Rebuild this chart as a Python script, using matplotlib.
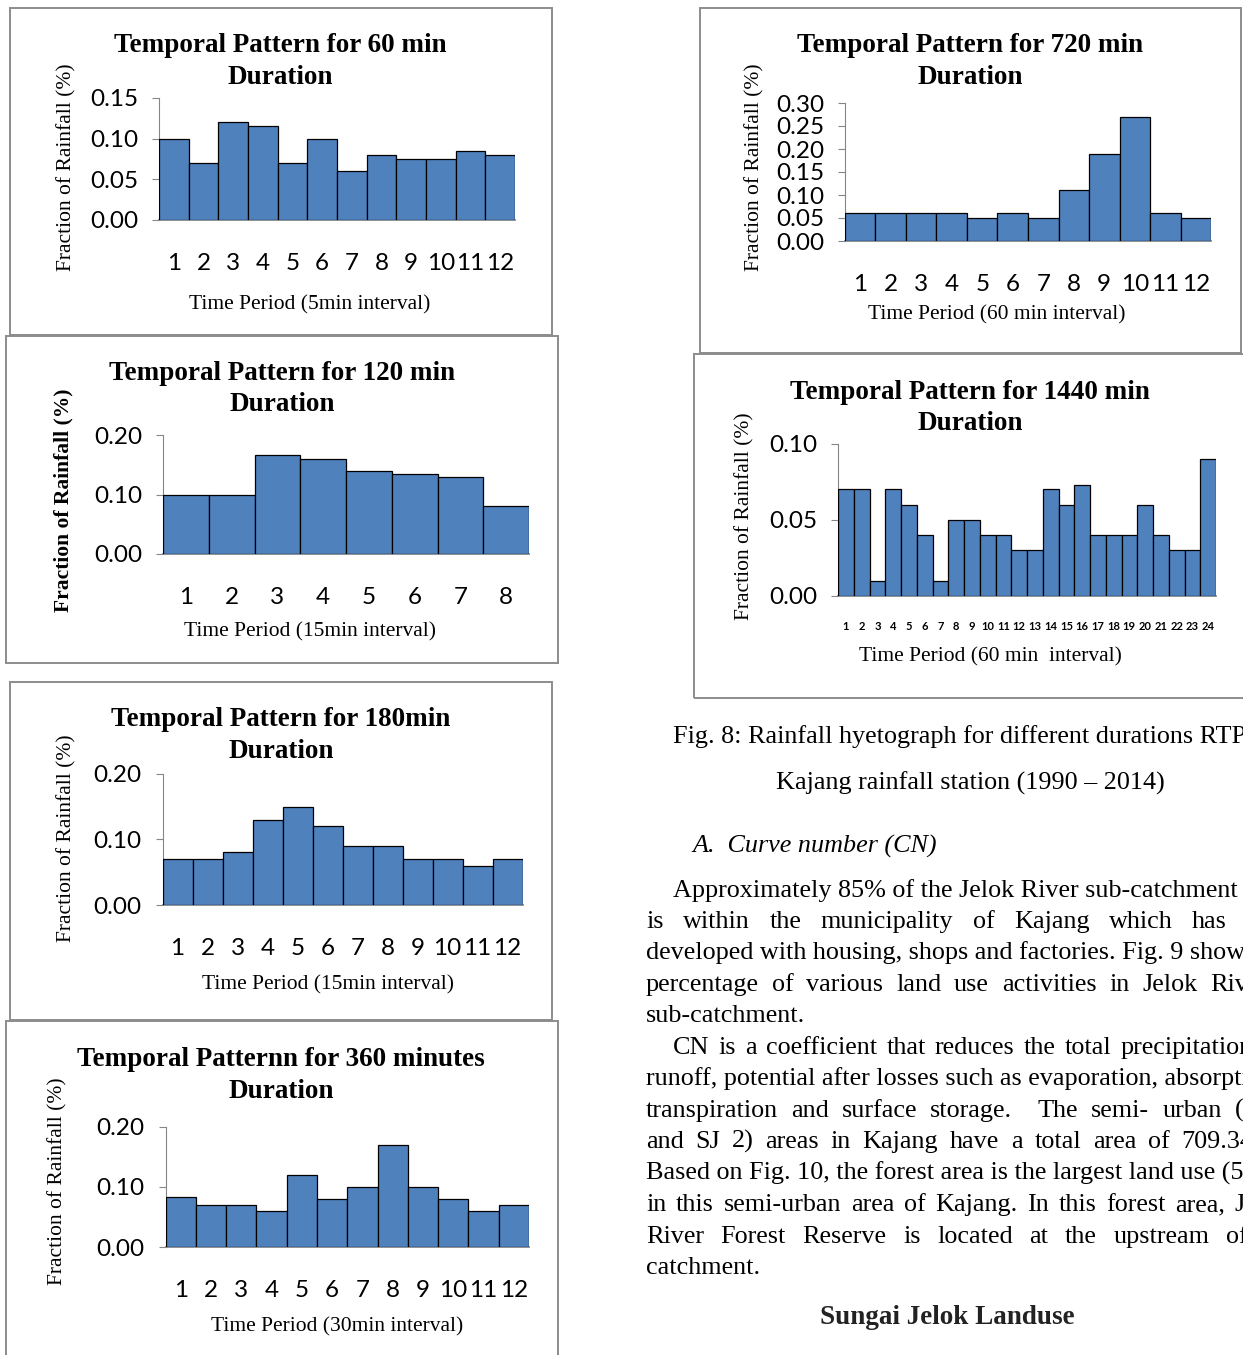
"""
Rainfall temporal patterns (hyetographs) for six storm durations,
laid out as a journal page with the caption and the text that follows it.
"""

import matplotlib
matplotlib.use('Agg')
import matplotlib.pyplot as plt
from matplotlib.patches import Rectangle

plt.rcParams['font.family'] = ['Liberation Serif', 'DejaVu Serif']

W, H = 1243, 1355
BAR_BLUE = '#4F81BD'
AXIS_GREY = '#868686'
FRAME_GREY = '#8C8C8C'

# fraction of storm rainfall in each time period
frac_60 = [0.10, 0.07, 0.12, 0.115, 0.07, 0.10, 0.06, 0.08, 0.075, 0.075, 0.085, 0.08]
frac_120 = [0.10, 0.10, 0.167, 0.16, 0.14, 0.135, 0.13, 0.08]
frac_180 = [0.07, 0.07, 0.08, 0.13, 0.15, 0.12, 0.09, 0.09, 0.07, 0.07, 0.06, 0.07]
frac_360 = [0.083, 0.07, 0.07, 0.06, 0.12, 0.08, 0.10, 0.17, 0.10, 0.08, 0.06, 0.07]
frac_720 = [0.06, 0.06, 0.06, 0.06, 0.05, 0.06, 0.05, 0.11, 0.19, 0.27, 0.06, 0.05]
frac_1440 = [0.07, 0.07, 0.01, 0.07, 0.06, 0.04, 0.01, 0.05, 0.05, 0.04, 0.04, 0.03,
             0.03, 0.07, 0.06, 0.073, 0.04, 0.04, 0.04, 0.06, 0.04, 0.03, 0.03, 0.09]

fig = plt.figure(figsize=(W / 100, H / 100), dpi=100)
fig.patch.set_facecolor('white')


def fx(x):
    return x / W


def fy(y):
    return 1 - y / H


def put(x, y, s, **kw):
    return fig.text(fx(x), fy(y), s, **kw)


def frame(x0, y0, x1, y1):
    fig.add_artist(Rectangle((fx(x0), fy(y1)), (x1 - x0) / W, (y1 - y0) / H,
                             transform=fig.transFigure, fill=False,
                             edgecolor=FRAME_GREY, linewidth=1.4, zorder=0))


def panel(values, box, ymax, ystep, title, title_xy, xlabel, xlabel_xy,
          ylabel_xy, ylabel_bold=False, xtick_size=17.5, xtick_pad=24):
    left, top, right, bottom = box
    ax = fig.add_axes([fx(left), fy(bottom), (right - left) / W, (bottom - top) / H])
    ax.patch.set_visible(False)
    periods = list(range(1, len(values) + 1))
    ax.bar(periods, values, width=1.0, color=BAR_BLUE, edgecolor='black',
           linewidth=0.9, zorder=3)
    ax.set_xlim(0.5, len(values) + 0.5)
    ax.set_ylim(0, ymax)

    nt = int(round(ymax / ystep)) + 1
    yt = [i * ystep for i in range(nt)]
    ax.set_yticks(yt, ['%.2f' % v for v in yt], fontfamily='Lato', fontsize=17.5)
    xt_weight = 'bold' if xtick_size < 10 else 'normal'
    ax.set_xticks(periods, [str(p) for p in periods], fontfamily='Lato',
                  fontsize=xtick_size, fontweight=xt_weight)
    ax.tick_params(axis='y', direction='out', length=5, width=0.8,
                   color=AXIS_GREY, pad=10)
    ax.tick_params(axis='x', length=0, pad=xtick_pad)

    for side in ('top', 'right'):
        ax.spines[side].set_visible(False)
    ax.spines['left'].set_color(AXIS_GREY)
    ax.spines['left'].set_linewidth(0.8)
    ax.spines['bottom'].set_color(AXIS_GREY)
    ax.spines['bottom'].set_linewidth(1.3)

    tx, ty = title_xy
    put(tx, ty + 2, title, ha='center', va='center', fontsize=19.5, fontweight='bold')
    put(tx, ty + 33, 'Duration', ha='center', va='center', fontsize=19.5,
        fontweight='bold')
    put(xlabel_xy[0], xlabel_xy[1], xlabel, ha='center', va='center', fontsize=15.5)
    put(ylabel_xy[0], ylabel_xy[1], 'Fraction of Rainfall (%)', ha='center',
        va='center', rotation=90, fontsize=15.5,
        fontweight='bold' if ylabel_bold else 'normal')
    return ax


# panel frames
frame(10, 8, 552, 335)
frame(700, 8, 1241, 353)
frame(6, 336, 558, 663)
frame(694, 354, 1260, 698)
frame(10, 682, 552, 1020)
frame(6, 1021, 558, 1370)

panel(frac_60, (159, 98, 515, 220), 0.15, 0.05,
      'Temporal Pattern for 60 min', (280, 44),
      'Time Period (5min interval)', (310, 305), (67, 167))
panel(frac_720, (845, 103, 1211, 241), 0.30, 0.05,
      'Temporal Pattern for 720 min', (970, 44),
      'Time Period (60 min interval)', (997, 315), (755, 167))
panel(frac_120, (163, 435, 529, 554), 0.20, 0.10,
      'Temporal Pattern for 120 min', (282, 372),
      'Time Period (15min interval)', (310, 632), (63, 500), ylabel_bold=True)
panel(frac_1440, (838, 443.6, 1216, 596), 0.10, 0.05,
      'Temporal Pattern for 1440 min', (970, 390),
      'Time Period (60 min  interval)', (990, 657), (745, 516),
      xtick_size=8, xtick_pad=18)
panel(frac_180, (162.5, 773.7, 522.5, 905), 0.20, 0.10,
      'Temporal Pattern for 180min', (281, 718),
      'Time Period (15min interval)', (328, 985), (67, 838))
panel(frac_360, (165.6, 1126.7, 529, 1247), 0.20, 0.10,
      'Temporal Patternn for 360 minutes', (281, 1058),
      'Time Period (30min interval)', (337, 1327), (58, 1181))

# ---- caption and body text ----
BODY = 18.8
renderer = fig.canvas.get_renderer()


def word_width(w, **kw):
    if not w:
        return 0.0
    t = fig.text(0, 0, w, fontsize=BODY, **kw)
    wd = t.get_window_extent(renderer).width
    t.remove()
    return wd


def line(s, y, left, right=None, **kw):
    base = y + 8
    if right is None:
        put(left, base, s, ha='left', va='baseline', fontsize=BODY, **kw)
        return
    words = s.split(' ')
    widths = [word_width(w, **kw) for w in words]
    gap = (right - left - sum(widths)) / (len(words) - 1)
    x = left
    for w, wd in zip(words, widths):
        if w:
            put(x, base, w, ha='left', va='baseline', fontsize=BODY, **kw)
        x += wd + gap


line('Fig. 8: Rainfall hyetograph for different durations RTP', 735, 673)
put(970, 782 + 8, 'Kajang rainfall station (1990 \u2013 2014)', ha='center',
    va='baseline', fontsize=BODY)
line('A.  Curve number (CN)', 845, 692, style='italic')

line('Approximately 85% of the Jelok River sub-catchment', 889, 673)
line('is within the municipality of Kajang which has', 920, 646, 1227)
line('developed with housing, shops and factories. Fig. 9 shows', 951, 646)
line('percentage of various land use activities in Jelok River', 983, 646, 1268)
line('sub-catchment.', 1014, 646)
line('CN is a coefficient that reduces the total precipitation', 1046, 673, 1253)
line('runoff, potential after losses such as evaporation, absorption,', 1077, 646)
line('transpiration and surface storage.  The semi- urban (SJ', 1109, 646, 1268)
line('and SJ 2) areas in Kajang have a total area of 709.34', 1140, 646, 1253)
line('Based on Fig. 10, the forest area is the largest land use (5', 1172, 646)
line('in this semi-urban area of Kajang. In this forest area, Jelok', 1203, 646, 1290)
line('River Forest Reserve is located at the upstream of', 1235, 646, 1248)
line('catchment.', 1266, 646)

put(947, 1317, 'Sungai Jelok Landuse', ha='center', va='center', fontsize=19.5,
    fontweight='bold', color='#222222')

fig.savefig('out.png', dpi=100, facecolor='white')
